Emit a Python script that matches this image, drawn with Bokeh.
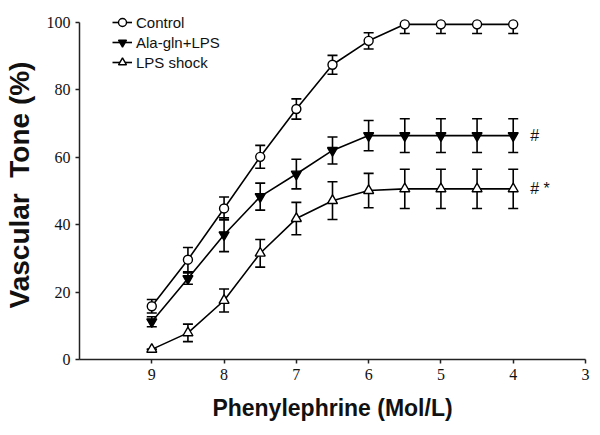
import numpy as np
from bokeh.plotting import figure
from bokeh.models import (Range1d, FixedTicker, ColumnDataSource, Whisker, TeeHead,
                          Legend, LegendItem)
from bokeh.core.properties import value
from bokeh.embed import file_html
from bokeh.resources import INLINE

# ---- data ----
conc = [9, 8.5, 8, 7.5, 7, 6.5, 6, 5.5, 5, 4.5, 4]
control = [15.8, 29.6, 44.8, 60.1, 74.3, 87.4, 94.5, 99.4, 99.4, 99.4, 99.4]
control_err = [2.0, 3.6, 3.4, 3.4, 3.0, 2.8, 2.4, 2.7, 2.7, 2.7, 2.7]
alagln = [11.2, 24.0, 37.0, 48.3, 55.0, 62.0, 66.4, 66.4, 66.4, 66.4, 66.4]
alagln_err = [1.5, 1.7, 5.0, 4.0, 4.4, 4.0, 4.5, 5.0, 5.0, 5.0, 5.0]
lps = [3.0, 7.9, 17.5, 31.5, 41.8, 47.1, 50.1, 50.6, 50.6, 50.6, 50.6]
lps_err = [0.0, 2.6, 3.4, 4.1, 4.8, 5.6, 5.1, 5.8, 5.8, 5.8, 5.8]
series_names = ["Control", "Ala-gln+LPS", "LPS shock"]
x_ticks = [9, 8, 7, 6, 5, 4, 3]
y_ticks = [0, 20, 40, 60, 80, 100]
y_axis_max = 100
annotations = {"Ala-gln+LPS": "#", "LPS shock": "# *"}

p = figure(width=592, height=427, output_backend="svg", toolbar_location=None,
           x_range=Range1d(10, 3), y_range=Range1d(0, 103.5),
           min_border_left=77, min_border_right=7, min_border_top=10,
           min_border_bottom=68)
p.outline_line_color = None
p.grid.visible = False
p.background_fill_color = "white"

for ax in (p.xaxis[0], p.yaxis[0]):
    ax.axis_line_width = 1.5
    ax.axis_line_color = "#222222"
    ax.major_tick_line_width = 1.5
    ax.major_tick_line_color = "#222222"
    ax.major_tick_in = 0
    ax.major_tick_out = 4
    ax.minor_tick_line_color = None
    ax.major_label_text_font = "Liberation Serif"
    ax.major_label_text_font_size = "16px"
    ax.major_label_text_color = "#111111"
    ax.axis_label_text_font = "Liberation Sans"
    ax.axis_label_text_font_style = "bold"
    ax.axis_label_text_color = "#111111"

p.yaxis.bounds = (0, y_axis_max)
p.xaxis.ticker = FixedTicker(ticks=x_ticks)
p.yaxis.ticker = FixedTicker(ticks=y_ticks)
p.xaxis.axis_label = "Phenylephrine (Mol/L)"
p.yaxis.axis_label = "Vascular\u00a0 Tone (%)"
p.xaxis.axis_label_text_font_size = "23px"
p.yaxis.axis_label_text_font_size = "28px"
p.xaxis.major_label_standoff = 5
p.yaxis.major_label_standoff = 5
p.xaxis.axis_label_standoff = 12
p.yaxis.axis_label_standoff = 9

ys = [control, alagln, lps]
errs = [control_err, alagln_err, lps_err]
markers = ["circle", "inverted_triangle", "triangle"]
fills = ["white", "black", "white"]
sizes = [9, 10, 10]


def tee():
    return TeeHead(size=10, line_color="black", line_width=1.6)


items = []
for name, y, e, m, f, s in zip(series_names, ys, errs, markers, fills, sizes):
    y = np.array(y, dtype=float)
    e = np.array(e, dtype=float)
    xs = np.array(conc, dtype=float)
    src = ColumnDataSource(dict(x=xs, y=y))
    ln = p.line("x", "y", source=src, line_color="black", line_width=1.6)
    # lower half of error bars
    lo_src = ColumnDataSource(dict(x=xs, y=y, lo=y - e))
    p.add_layout(Whisker(base="x", lower="lo", upper="y", source=lo_src,
                         line_color="black", line_width=1.6,
                         lower_head=tee(), upper_head=None))
    # upper half: hidden where it would rise past the top of the axis
    keep = (y + e) <= y_axis_max
    up_src = ColumnDataSource(dict(x=xs[keep], y=y[keep], hi=(y + e)[keep]))
    p.add_layout(Whisker(base="x", lower="y", upper="hi", source=up_src,
                         line_color="black", line_width=1.6,
                         upper_head=tee(), lower_head=None))
    sc = p.scatter("x", "y", source=src, marker=m, size=s, fill_color=f,
                   line_color="black", line_width=1.4)
    items.append(LegendItem(label=name, renderers=[ln, sc]))
    if name in annotations:
        last = len(conc) - 1
        p.text(x=[conc[last]], y=[y[last]], text=[annotations[name]],
               x_offset=17, text_align="left", text_baseline="middle",
               text_font=value("Liberation Sans"), text_font_size="16px",
               text_color="#111111")

legend = Legend(items=items, location=(33, 287), glyph_width=20, glyph_height=20,
                label_height=20, spacing=0, padding=0, margin=0, label_standoff=4,
                label_text_font="Liberation Sans", label_text_font_size="15px",
                label_text_color="#111111",
                border_line_alpha=0, background_fill_alpha=0)
p.add_layout(legend)

open("out.html", "w").write(file_html(p, INLINE))
